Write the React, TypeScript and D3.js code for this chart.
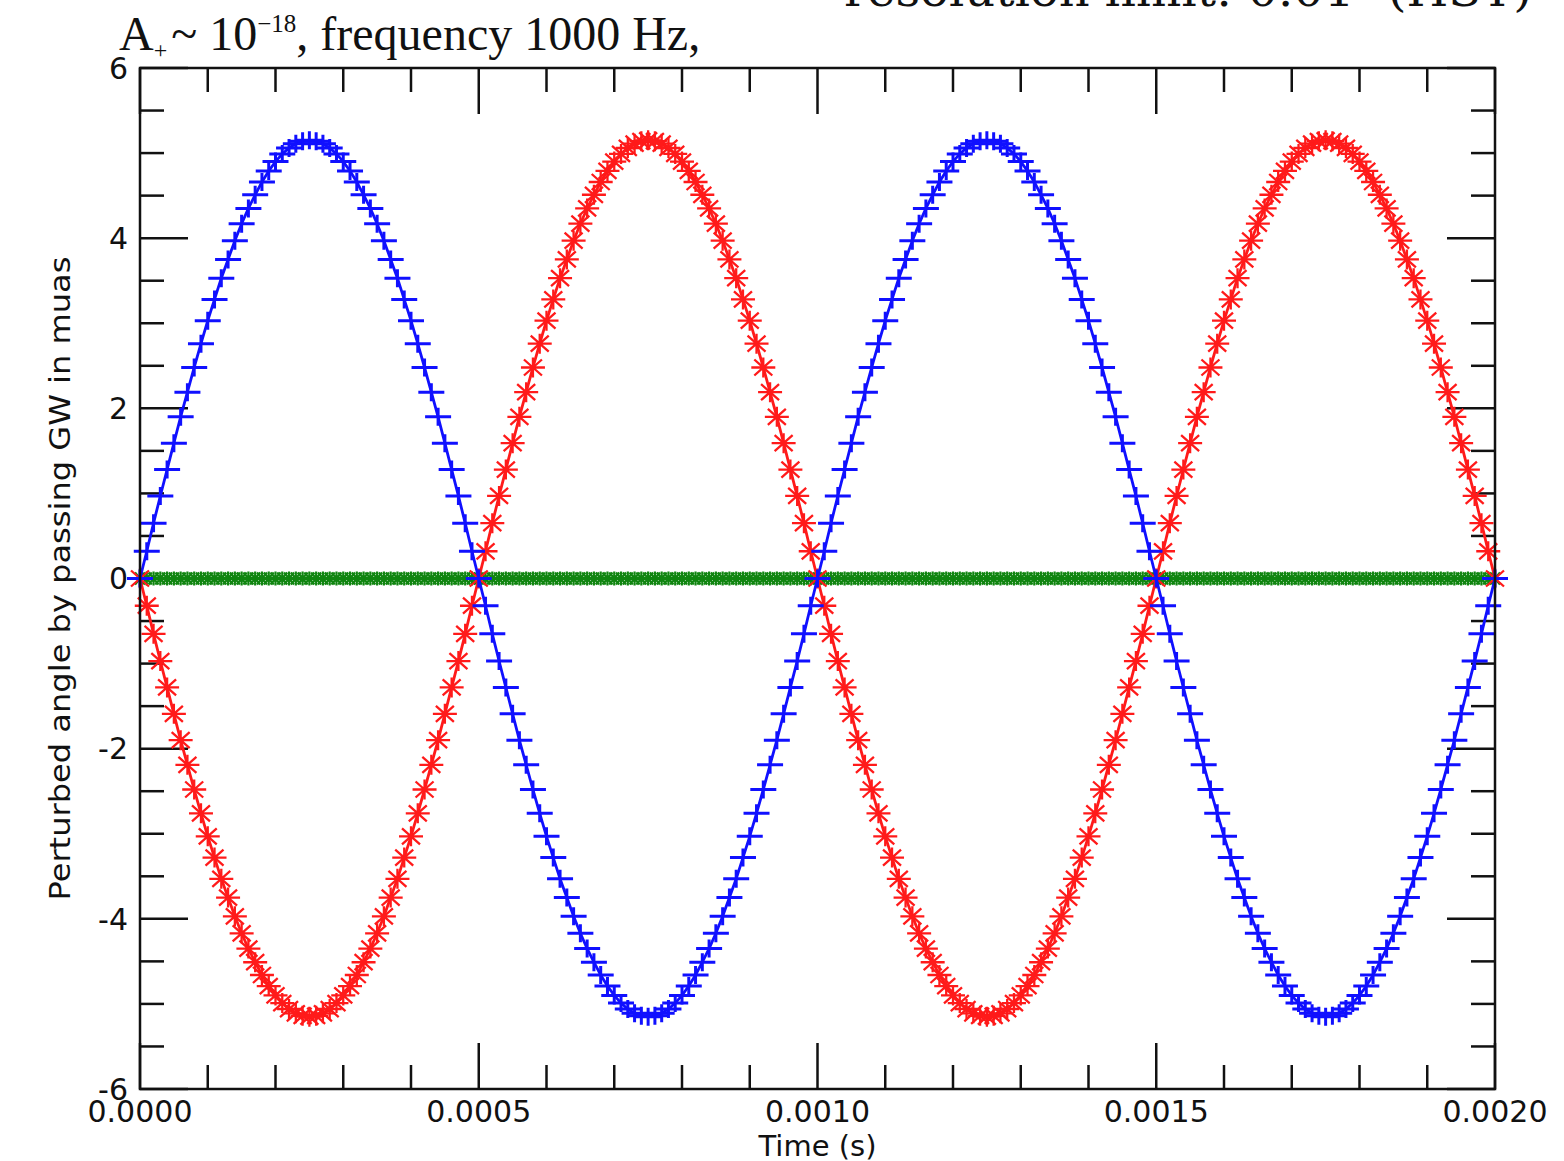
import React from 'react';
import * as d3 from 'd3';

// time samples in microseconds
const TIME_US = [
  0, 10, 20, 30, 40, 50, 60, 70, 80, 90,
  100, 110, 120, 130, 140, 150, 160, 170, 180, 190,
  200, 210, 220, 230, 240, 250, 260, 270, 280, 290,
  300, 310, 320, 330, 340, 350, 360, 370, 380, 390,
  400, 410, 420, 430, 440, 450, 460, 470, 480, 490,
  500, 510, 520, 530, 540, 550, 560, 570, 580, 590,
  600, 610, 620, 630, 640, 650, 660, 670, 680, 690,
  700, 710, 720, 730, 740, 750, 760, 770, 780, 790,
  800, 810, 820, 830, 840, 850, 860, 870, 880, 890,
  900, 910, 920, 930, 940, 950, 960, 970, 980, 990,
  1000, 1010, 1020, 1030, 1040, 1050, 1060, 1070, 1080, 1090,
  1100, 1110, 1120, 1130, 1140, 1150, 1160, 1170, 1180, 1190,
  1200, 1210, 1220, 1230, 1240, 1250, 1260, 1270, 1280, 1290,
  1300, 1310, 1320, 1330, 1340, 1350, 1360, 1370, 1380, 1390,
  1400, 1410, 1420, 1430, 1440, 1450, 1460, 1470, 1480, 1490,
  1500, 1510, 1520, 1530, 1540, 1550, 1560, 1570, 1580, 1590,
  1600, 1610, 1620, 1630, 1640, 1650, 1660, 1670, 1680, 1690,
  1700, 1710, 1720, 1730, 1740, 1750, 1760, 1770, 1780, 1790,
  1800, 1810, 1820, 1830, 1840, 1850, 1860, 1870, 1880, 1890,
  1900, 1910, 1920, 1930, 1940, 1950, 1960, 1970, 1980, 1990,
  2000,
];

// blue "+" series
const PLUS_VALUES = [
  0.00, 0.32, 0.65, 0.97, 1.28, 1.59, 1.90, 2.19, 2.48, 2.76,
  3.03, 3.28, 3.53, 3.75, 3.97, 4.17, 4.35, 4.51, 4.66, 4.79,
  4.90, 4.99, 5.06, 5.11, 5.14, 5.15, 5.14, 5.11, 5.06, 4.99,
  4.90, 4.79, 4.66, 4.51, 4.35, 4.17, 3.97, 3.75, 3.53, 3.28,
  3.03, 2.76, 2.48, 2.19, 1.90, 1.59, 1.28, 0.97, 0.65, 0.32,
  0.00, -0.32, -0.65, -0.97, -1.28, -1.59, -1.90, -2.19, -2.48, -2.76,
  -3.03, -3.28, -3.53, -3.75, -3.97, -4.17, -4.35, -4.51, -4.66, -4.79,
  -4.90, -4.99, -5.06, -5.11, -5.14, -5.15, -5.14, -5.11, -5.06, -4.99,
  -4.90, -4.79, -4.66, -4.51, -4.35, -4.17, -3.97, -3.75, -3.53, -3.28,
  -3.03, -2.76, -2.48, -2.19, -1.90, -1.59, -1.28, -0.97, -0.65, -0.32,
  0.00, 0.32, 0.65, 0.97, 1.28, 1.59, 1.90, 2.19, 2.48, 2.76,
  3.03, 3.28, 3.53, 3.75, 3.97, 4.17, 4.35, 4.51, 4.66, 4.79,
  4.90, 4.99, 5.06, 5.11, 5.14, 5.15, 5.14, 5.11, 5.06, 4.99,
  4.90, 4.79, 4.66, 4.51, 4.35, 4.17, 3.97, 3.75, 3.53, 3.28,
  3.03, 2.76, 2.48, 2.19, 1.90, 1.59, 1.28, 0.97, 0.65, 0.32,
  0.00, -0.32, -0.65, -0.97, -1.28, -1.59, -1.90, -2.19, -2.48, -2.76,
  -3.03, -3.28, -3.53, -3.75, -3.97, -4.17, -4.35, -4.51, -4.66, -4.79,
  -4.90, -4.99, -5.06, -5.11, -5.14, -5.15, -5.14, -5.11, -5.06, -4.99,
  -4.90, -4.79, -4.66, -4.51, -4.35, -4.17, -3.97, -3.75, -3.53, -3.28,
  -3.03, -2.76, -2.48, -2.19, -1.90, -1.59, -1.28, -0.97, -0.65, -0.32,
  0.00,
];

// red "*" series
const CROSS_VALUES = [
  0.00, -0.32, -0.65, -0.97, -1.28, -1.59, -1.90, -2.19, -2.48, -2.76,
  -3.03, -3.28, -3.53, -3.75, -3.97, -4.17, -4.35, -4.51, -4.66, -4.79,
  -4.90, -4.99, -5.06, -5.11, -5.14, -5.15, -5.14, -5.11, -5.06, -4.99,
  -4.90, -4.79, -4.66, -4.51, -4.35, -4.17, -3.97, -3.75, -3.53, -3.28,
  -3.03, -2.76, -2.48, -2.19, -1.90, -1.59, -1.28, -0.97, -0.65, -0.32,
  0.00, 0.32, 0.65, 0.97, 1.28, 1.59, 1.90, 2.19, 2.48, 2.76,
  3.03, 3.28, 3.53, 3.75, 3.97, 4.17, 4.35, 4.51, 4.66, 4.79,
  4.90, 4.99, 5.06, 5.11, 5.14, 5.15, 5.14, 5.11, 5.06, 4.99,
  4.90, 4.79, 4.66, 4.51, 4.35, 4.17, 3.97, 3.75, 3.53, 3.28,
  3.03, 2.76, 2.48, 2.19, 1.90, 1.59, 1.28, 0.97, 0.65, 0.32,
  0.00, -0.32, -0.65, -0.97, -1.28, -1.59, -1.90, -2.19, -2.48, -2.76,
  -3.03, -3.28, -3.53, -3.75, -3.97, -4.17, -4.35, -4.51, -4.66, -4.79,
  -4.90, -4.99, -5.06, -5.11, -5.14, -5.15, -5.14, -5.11, -5.06, -4.99,
  -4.90, -4.79, -4.66, -4.51, -4.35, -4.17, -3.97, -3.75, -3.53, -3.28,
  -3.03, -2.76, -2.48, -2.19, -1.90, -1.59, -1.28, -0.97, -0.65, -0.32,
  0.00, 0.32, 0.65, 0.97, 1.28, 1.59, 1.90, 2.19, 2.48, 2.76,
  3.03, 3.28, 3.53, 3.75, 3.97, 4.17, 4.35, 4.51, 4.66, 4.79,
  4.90, 4.99, 5.06, 5.11, 5.14, 5.15, 5.14, 5.11, 5.06, 4.99,
  4.90, 4.79, 4.66, 4.51, 4.35, 4.17, 3.97, 3.75, 3.53, 3.28,
  3.03, 2.76, 2.48, 2.19, 1.90, 1.59, 1.28, 0.97, 0.65, 0.32,
  0.00,
];

// green series, flat on zero
const FLAT_VALUES = [
  0, 0, 0, 0, 0, 0, 0, 0, 0, 0,
  0, 0, 0, 0, 0, 0, 0, 0, 0, 0,
  0, 0, 0, 0, 0, 0, 0, 0, 0, 0,
  0, 0, 0, 0, 0, 0, 0, 0, 0, 0,
  0, 0, 0, 0, 0, 0, 0, 0, 0, 0,
  0, 0, 0, 0, 0, 0, 0, 0, 0, 0,
  0, 0, 0, 0, 0, 0, 0, 0, 0, 0,
  0, 0, 0, 0, 0, 0, 0, 0, 0, 0,
  0, 0, 0, 0, 0, 0, 0, 0, 0, 0,
  0, 0, 0, 0, 0, 0, 0, 0, 0, 0,
  0, 0, 0, 0, 0, 0, 0, 0, 0, 0,
  0, 0, 0, 0, 0, 0, 0, 0, 0, 0,
  0, 0, 0, 0, 0, 0, 0, 0, 0, 0,
  0, 0, 0, 0, 0, 0, 0, 0, 0, 0,
  0, 0, 0, 0, 0, 0, 0, 0, 0, 0,
  0, 0, 0, 0, 0, 0, 0, 0, 0, 0,
  0, 0, 0, 0, 0, 0, 0, 0, 0, 0,
  0, 0, 0, 0, 0, 0, 0, 0, 0, 0,
  0, 0, 0, 0, 0, 0, 0, 0, 0, 0,
  0, 0, 0, 0, 0, 0, 0, 0, 0, 0,
  0,
];

const X_TICKS = [0, 0.0005, 0.001, 0.0015, 0.002];
const Y_TICKS = [-6, -4, -2, 0, 2, 4, 6];

const WIDTH = 1564, HEIGHT = 1161;
const SANS = 'DejaVu Sans, sans-serif';
const SERIF = 'Liberation Serif, Times New Roman, serif';

const PLUS_PATH = 'M-13,0H13M0,-9V9';
const STAR_PATH = 'M-12,0H12M0,-10V10M-9,-8L9,8M-9,8L9,-8';
const SMALL_STAR = 'M-6,0H6M0,-7V7M-5,-6L5,6M-5,6L5,-6';

export default function App() {
  const x = d3.scaleLinear().domain([0, 0.002]).range([140, 1495]);
  const y = d3.scaleLinear().domain([-6, 6]).range([1089, 68]);
  const [x0, x1] = x.range();
  const [y0, y1] = y.range();

  const pts = (vals: number[]) => TIME_US.map((t, i) => [t / 1e6, vals[i]] as [number, number]);
  const line = d3.line<[number, number]>().x(d => x(d[0])).y(d => y(d[1]));

  const series = [
    { vals: FLAT_VALUES, color: '#108510', marker: SMALL_STAR, sw: 2.2 },
    { vals: CROSS_VALUES, color: '#ff1a1a', marker: STAR_PATH, sw: 2.3 },
    { vals: PLUS_VALUES, color: '#1010ff', marker: PLUS_PATH, sw: 3 },
  ];

  const xMinor = x.ticks(20);
  const yMinor = y.ticks(24);
  const isXMajor = (v: number) => X_TICKS.some(m => Math.abs(m - v) < 1e-9);
  const isYMajor = (v: number) => Y_TICKS.includes(v);

  return (
    <div style={{ position: 'absolute', left: 0, top: 0 }}>
      <svg width={WIDTH} height={HEIGHT} style={{ display: 'block', background: '#fff' }}>
        {/* header text */}
        <text x={119} y={50} fontFamily={SERIF} fontSize={48} fill="#111">
          A<tspan fontSize={24} dy={8}>+</tspan>
          <tspan dx={4} dy={-8}>~ 10</tspan>
          <tspan fontSize={25} dy={-18}>−18</tspan>
          <tspan dy={18}>, frequency 1000 Hz,</tspan>
        </text>
        <text x={1532} y={6} textAnchor="end" fontFamily="DejaVu Serif, serif" fontSize={44}
          textLength={688} lengthAdjust="spacingAndGlyphs" fill="#111">
          resolution limit: 0.01″ (HST)
        </text>

        {/* x ticks, bottom and top */}
        {xMinor.map(v => {
          const len = isXMajor(v) ? 46 : 24;
          return (
            <g key={'x' + v} stroke="#111" strokeWidth={2.5}>
              <line x1={x(v)} x2={x(v)} y1={y0} y2={y0 - len} />
              <line x1={x(v)} x2={x(v)} y1={y1} y2={y1 + len} />
            </g>
          );
        })}
        {/* y ticks, left and right */}
        {yMinor.map(v => {
          const len = isYMajor(v) ? 48 : 24;
          return (
            <g key={'y' + v} stroke="#111" strokeWidth={2.5}>
              <line x1={x0} x2={x0 + len} y1={y(v)} y2={y(v)} />
              <line x1={x1} x2={x1 - len} y1={y(v)} y2={y(v)} />
            </g>
          );
        })}

        {/* series */}
        {series.map((s, si) => {
          const p = pts(s.vals);
          return (
            <g key={si}>
              <path d={line(p) || ''} fill="none" stroke={s.color} strokeWidth={2.8} />
              {p.map((d, i) => (
                <path key={i} d={s.marker} transform={`translate(${x(d[0])},${y(d[1])})`}
                  fill="none" stroke={s.color} strokeWidth={s.sw} />
              ))}
            </g>
          );
        })}

        {/* frame */}
        <rect x={x0} y={y1} width={x1 - x0} height={y0 - y1} fill="none" stroke="#111" strokeWidth={2.5} />

        {/* tick labels */}
        {X_TICKS.map(v => (
          <text key={'xl' + v} x={x(v)} y={1122} textAnchor="middle" fontFamily={SANS} fontSize={30} fill="#111">
            {d3.format('.4f')(v)}
          </text>
        ))}
        {Y_TICKS.map(v => (
          <text key={'yl' + v} x={128} y={y(v)} dy="0.36em" textAnchor="end" fontFamily={SANS} fontSize={30} fill="#111">
            {String(v)}
          </text>
        ))}

        {/* axis titles */}
        <text x={(x0 + x1) / 2} y={1156} textAnchor="middle" fontFamily={SANS} fontSize={29} fill="#111">Time (s)</text>
        <text transform={`translate(70,${(y0 + y1) / 2}) rotate(-90)`} textAnchor="middle" fontFamily={SANS} fontSize={29}
          textLength={644} lengthAdjust="spacingAndGlyphs" fill="#111">
          Perturbed angle by passing GW in muas
        </text>
      </svg>
    </div>
  );
}
